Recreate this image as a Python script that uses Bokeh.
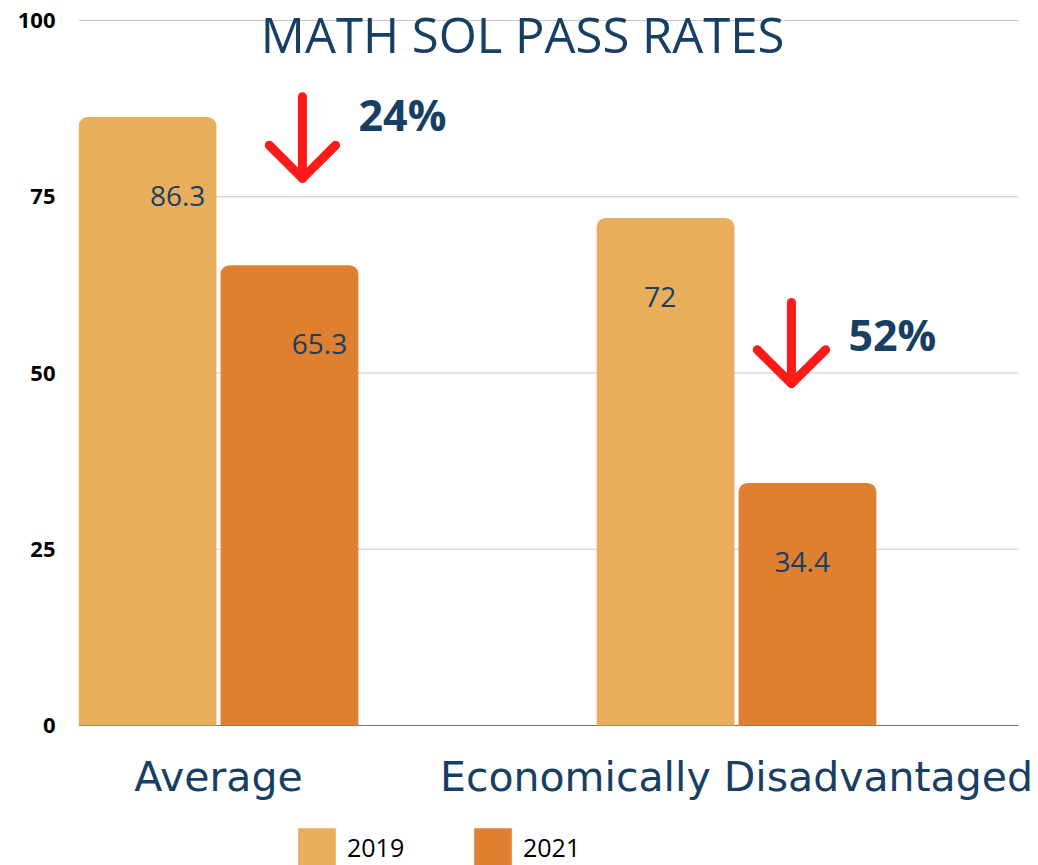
from bokeh.plotting import figure
from bokeh.models import (ColumnDataSource, Range1d, FixedTicker, Label, Legend, LegendItem)
from bokeh.core.properties import value
from bokeh.embed import file_html
from bokeh.resources import INLINE

# ---- data ----
categories = ["Average", "Economically Disadvantaged"]
years = ["2019", "2021"]
rates_2019 = [86.3, 72]
rates_2021 = [65.3, 34.4]
drops = ["24%", "52%"]
y_ticks = [0, 25, 50, 75, 100]

# ---- styles ----
NAVY = "#173E63"
COLORS = ["#E9AE5B", "#DF7F30"]
RED = "#FF1A1A"
FONT = "Open Sans"
X_START, X_GRID_END, X_END = -0.2703, 1.5444, 1.583
label_dx = [0.058, -0.01]   # per-category nudge of the value labels

p = figure(width=1038, height=865, output_backend="svg", toolbar_location=None,
           x_range=Range1d(X_START, X_END), y_range=Range1d(-19.86, 102.84),
           min_border_left=78, min_border_right=0, min_border_top=0,
           min_border_bottom=0)
p.outline_line_color = None
p.xgrid.visible = False
p.ygrid.visible = False
p.xaxis.visible = False

# horizontal grid lines (stop short of the right edge)
grid_ticks = y_ticks[1:]
p.segment(x0=[X_START] * len(grid_ticks), x1=[X_GRID_END] * len(grid_ticks),
          y0=grid_ticks, y1=grid_ticks, line_color="#c8c8c8", line_width=1)
p.segment(x0=[X_START], x1=[X_GRID_END], y0=[0], y1=[0], line_color="#707070", line_width=1)

idx = list(range(len(categories)))
offsets = [-0.137, 0.137]
bar_w = 0.266
renderers = []
for series, off, col, yr in zip([rates_2019, rates_2021], offsets, COLORS, years):
    src = ColumnDataSource(dict(x=[i + off for i in idx],
                                lx=[i + off + d for i, d in zip(idx, label_dx)],
                                top=series,
                                ly=[v - 11.2 for v in series],
                                lab=[f"{v:g}" for v in series]))
    r = p.vbar(x="x", top="top", width=bar_w, bottom=0, source=src,
               fill_color=col, line_color=None, border_radius=(9, 9, 0, 0))
    renderers.append(r)
    p.text(x="lx", y="ly", text="lab", source=src, text_align="center",
           text_baseline="alphabetic", text_color=NAVY,
           text_font=value(FONT), text_font_size="28px")

# category labels under the bars
p.text(x=idx, y=[-3.97] * len(idx), text=categories, text_align="center",
       text_baseline="top", text_color=NAVY, text_font=value("DejaVu Sans"),
       text_font_size="41px")

p.yaxis.ticker = FixedTicker(ticks=y_ticks)
p.yaxis.major_label_text_font = FONT
p.yaxis.major_label_text_font_style = "bold"
p.yaxis.major_label_text_font_size = "22px"
p.yaxis.major_label_text_color = "#000000"
p.yaxis.axis_line_color = None
p.yaxis.major_tick_line_color = None
p.yaxis.minor_tick_line_color = None
p.yaxis.major_tick_out = 0
p.yaxis.major_label_standoff = 23

# title inside plot
p.add_layout(Label(x=0.587, y=98.1, text="MATH SOL PASS RATES", text_align="center",
                   text_baseline="alphabetic", text_color=NAVY,
                   text_font=FONT, text_font_size="49px"))

# drop arrows and percentages
arrow_x = [0.162, 1.106]
arrow_top = [89.2, 60.0]
arrow_tip = [77.6, 48.5]
arm_y = [82.3, 53.3]
arm_dx = [0.064, 0.066]
for ax, at, tip, ay, dx in zip(arrow_x, arrow_top, arrow_tip, arm_y, arm_dx):
    p.line([ax, ax], [at, tip], line_color=RED, line_width=9, line_cap="round")
    p.line([ax - dx, ax, ax + dx], [ay, tip, ay], line_color=RED, line_width=9,
           line_cap="round", line_join="round")

pct_x = [0.2703, 1.216]
pct_y = [86.6, 55.4]
p.text(x=pct_x, y=pct_y, text=drops, text_align="left", text_baseline="alphabetic",
       text_color=NAVY, text_font=value(FONT), text_font_style="bold",
       text_font_size="43px")

# legend under the chart
leg = Legend(items=[LegendItem(label=yr, renderers=[r]) for yr, r in zip(years, renderers)],
             location=(215, -5), orientation="horizontal",
             glyph_width=47, glyph_height=47, label_standoff=7, label_width=70,
             spacing=52, padding=0, margin=0, border_line_color=None,
             background_fill_alpha=0, label_text_font=FONT,
             label_text_font_size="25px", label_text_color="#000000")
p.add_layout(leg, "center")

open("out.html", "w").write(file_html(p, INLINE))
